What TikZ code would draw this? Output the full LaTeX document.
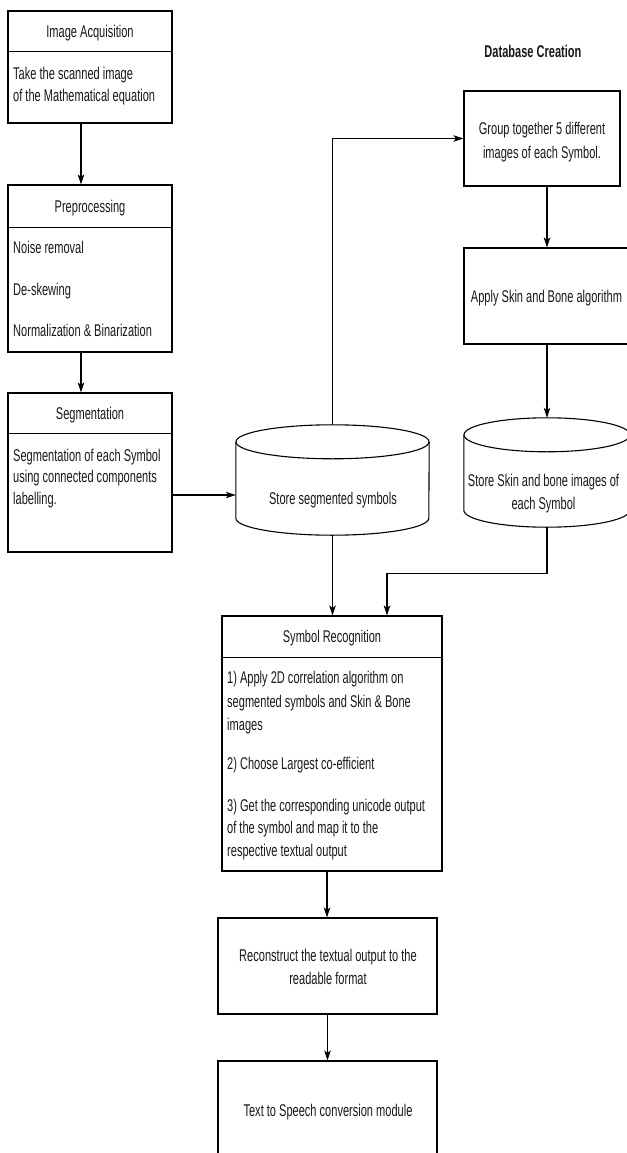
\documentclass[tikz,border=0pt]{standalone}
\usepackage{fontspec}
\setmainfont{Liberation Sans}[FakeStretch=0.65]
\usetikzlibrary{arrows.meta,calc}
\begin{document}
\begin{tikzpicture}[x=1pt,y=-1pt,
  box/.style={draw,line width=1.1pt,inner sep=0pt},
  txt/.style={inner sep=0pt,font=\fontsize{17}{21}\selectfont,text height=12pt,text depth=3.5pt,text=black!90},
  ltxt/.style={txt,anchor=west},
  arr/.style={line width=1.1pt,-{Stealth[length=10pt,width=6.5pt,inset=2.5pt]}},
  conn/.style={line width=1.1pt}]
\useasboundingbox[fill=white] (0,0) rectangle (626,1153);

% left column
\node[box,minimum width=164pt,minimum height=112pt] (acq) at (90,67) {};
\draw[conn] ([yshift=-41pt]acq.north west) -- ([yshift=-41pt]acq.north east);
\node[txt] (acqT) at (90,33) {Image Acquisition};
\node[ltxt] (acqB1) at (13,75) {Take the scanned image};
\node[ltxt] (acqB2) at (13,97) {of the Mathematical equation};

\node[box,minimum width=164pt,minimum height=167pt] (pre) at (90,268.5) {};
\draw[conn] ([yshift=-43pt]pre.north west) -- ([yshift=-43pt]pre.north east);
\node[txt] (preT) at (90,208) {Preprocessing};
\node[ltxt] (preB1) at (13,249) {Noise removal};
\node[ltxt] (preB2) at (13,291) {De-skewing};
\node[ltxt] (preB3) at (13,332) {Normalization \& Binarization};

\node[box,minimum width=164pt,minimum height=159pt] (seg) at (90,472.5) {};
\draw[conn] ([yshift=-41pt]seg.north west) -- ([yshift=-41pt]seg.north east);
\node[txt] (segT) at (90,415) {Segmentation};
\node[ltxt] (segB1) at (13,457) {Segmentation of each Symbol};
\node[ltxt] (segB2) at (13,478) {using connected components};
\node[ltxt] (segB3) at (13,500) {labelling.};

% database creation
\node[txt,font=\fontsize{17}{21}\selectfont\bfseries] (dbT) at (533,53) {Database Creation};
\node[box,minimum width=156pt,minimum height=95pt] (grp) at (542,138.5) {};
\node[txt] (grpT1) at (542,130) {Group together 5 different};
\node[txt] (grpT2) at (542,154) {images of each Symbol.};

\node[box,minimum width=166pt,minimum height=96pt] (skin) at (547,296) {};
\node[txt] (skinT) at (546.5,298) {Apply Skin and Bone algorithm};

% cylinders
\node[inner sep=0pt,minimum width=193pt,minimum height=110pt] (cyl1) at (332.5,480) {};
\draw[conn,fill=white] ($(cyl1.north)+(0,17)$) ellipse [x radius=96.5pt,y radius=17pt];
\draw[conn] ($(cyl1.north west)+(0,17)$) -- ($(cyl1.south west)+(0,-17)$)
  arc [start angle=180,end angle=360,x radius=96.5pt,y radius=17pt]
  -- ($(cyl1.north east)+(0,17)$);
\node[txt] (cyl1T) at (333,500) {Store segmented symbols};

\node[inner sep=0pt,minimum width=166pt,minimum height=109pt] (cyl2) at (547,472.5) {};
\draw[conn,fill=white] ($(cyl2.north)+(0,17)$) ellipse [x radius=83pt,y radius=17pt];
\draw[conn] ($(cyl2.north west)+(0,17)$) -- ($(cyl2.south west)+(0,-17)$)
  arc [start angle=180,end angle=360,x radius=83pt,y radius=17pt]
  -- ($(cyl2.north east)+(0,17)$);
\node[txt] (cyl2T1) at (543.5,482) {Store Skin and bone images of};
\node[txt] (cyl2T2) at (543.5,505) {each Symbol};

% symbol recognition
\node[box,minimum width=220pt,minimum height=255pt] (rec) at (332,743.5) {};
\draw[conn] ([yshift=-42pt]rec.north west) -- ([yshift=-42pt]rec.north east);
\node[txt] (recT) at (332,638) {Symbol Recognition};
\node[ltxt] (recB1) at (227,679) {1) Apply 2D correlation algorithm on};
\node[ltxt] (recB2) at (227,703) {segmented symbols and Skin \& Bone};
\node[ltxt] (recB3) at (227,726) {images};
\node[ltxt] (recB4) at (227,765) {2) Choose Largest co-efficient};
\node[ltxt] (recB5) at (227,807) {3) Get the corresponding unicode output};
\node[ltxt] (recB6) at (227,829) {of the symbol and map it to the};
\node[ltxt] (recB7) at (227,852) {respective textual output};

\node[box,minimum width=219pt,minimum height=96pt] (recon) at (327.5,966) {};
\node[txt] (reconT1) at (328,957) {Reconstruct the textual output to the};
\node[txt] (reconT2) at (328,980) {readable format};

\node[box,minimum width=219pt,minimum height=96pt] (tts) at (327.5,1109) {};
\node[txt] (ttsT) at (328,1112) {Text to Speech conversion module};

% connectors
\draw[arr] ([xshift=-9pt]acq.south) -- ([xshift=-9pt]pre.north);
\draw[arr] ([xshift=-9pt]pre.south) -- ([xshift=-9pt]seg.north);
\draw[arr] ([yshift=-22.5pt]seg.east) -- ([yshift=-22.5pt]seg.east -| cyl1.west);
\draw[arr] (cyl1.north) -- (cyl1.north |- grp.west) -- (grp.west);
\draw[arr] ([xshift=5pt]grp.south) -- ([xshift=5pt]grp.south |- skin.north);
\draw[arr] (skin.south) -- (cyl2.north);
\draw[arr] (cyl2.south) -- ++(0,46) -| ([xshift=55pt]rec.north);
\draw[arr] (cyl1.south) -- (cyl1.south |- rec.north);
\draw[arr] ([xshift=-5pt]rec.south) -- ([xshift=-5pt]rec.south |- recon.north);
\draw[arr] (recon.south) -- (tts.north);
\end{tikzpicture}
\end{document}
